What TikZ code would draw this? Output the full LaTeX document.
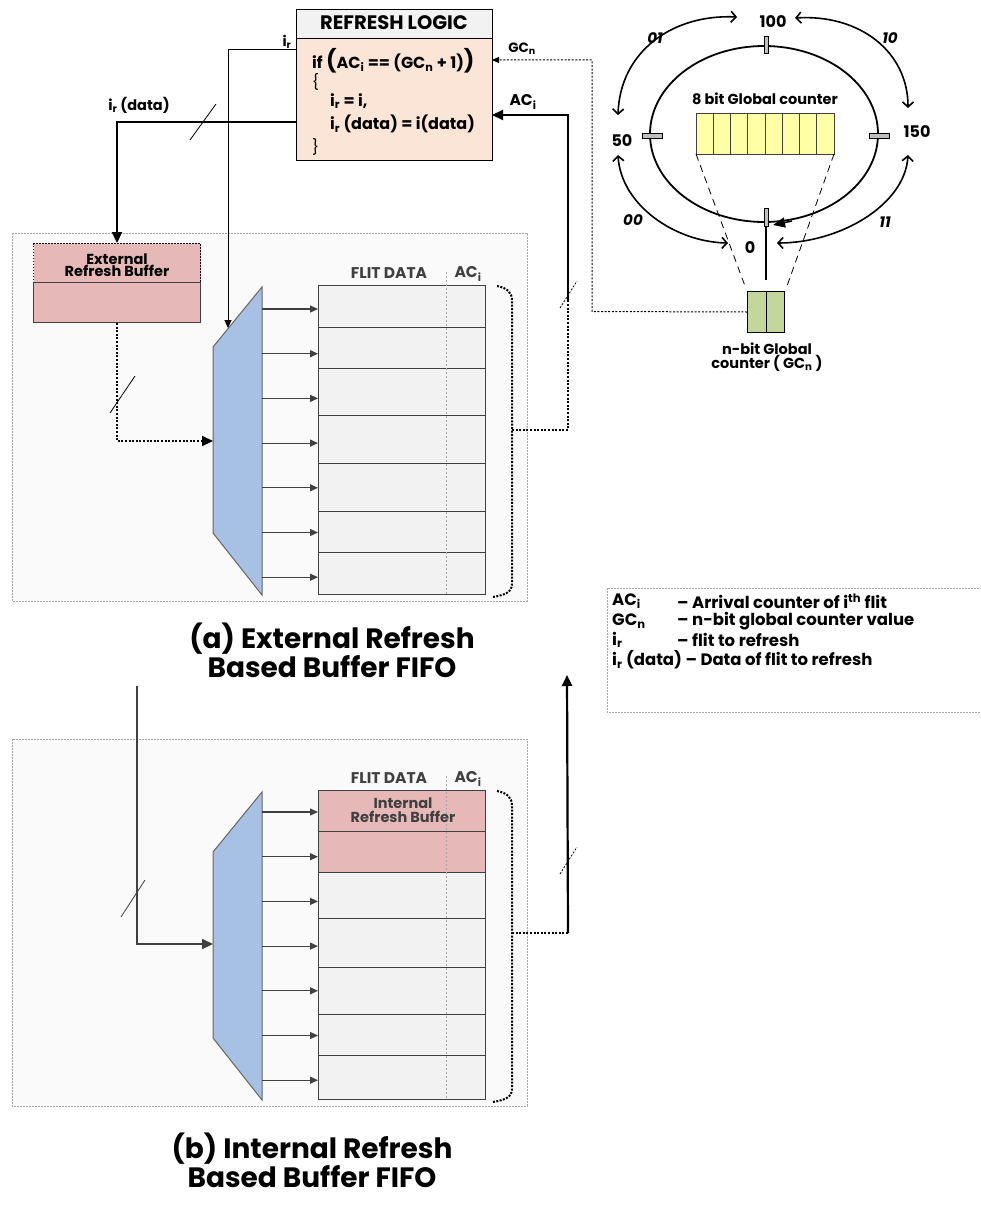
\documentclass[tikz,border=0pt]{standalone}
\usepackage{fontspec}
\setmainfont{Poppins}
\usetikzlibrary{arrows.meta}
\definecolor{peach}{HTML}{FBE5D6}
\definecolor{hdrgray}{HTML}{F2F2F2}
\definecolor{rose}{HTML}{E6B9B8}
\definecolor{muxblue}{HTML}{A6C1E4}
\definecolor{cellgray}{HTML}{F2F2F2}
\definecolor{regyellow}{HTML}{FFFFA6}
\definecolor{reggreen}{HTML}{C4D79B}
\definecolor{panelbg}{HTML}{FAFAFA}
\definecolor{ink}{HTML}{404040}
\definecolor{framegray}{HTML}{A6A6A6}
\newcommand\lo[1]{\textsubscript{#1}}
\newcommand\fs[1]{\fontsize{#1}{#1}\selectfont}
\begin{document}
\begin{tikzpicture}[x=1pt,y=-1pt,
  txt/.style={font=\bfseries\fs{16}, inner sep=0pt},
  panel/.style={draw=framegray, fill=panelbg, line width=0.9pt, dash pattern=on 1.6pt off 1.4pt},
  bigtip/.style={-{Triangle[length=11pt,width=10pt]}},
  bus/.style={line width=2.2pt},
  dotbus/.style={line width=2.2pt, dash pattern=on 2pt off 1.6pt},
  feed/.style={ink, line width=1.2pt, -{Triangle[length=8pt,width=7pt]}},
  slash/.style={line width=0.8pt},
  dslash/.style={line width=0.8pt, dash pattern=on 2pt off 1.5pt},
  brace/.style={line width=2pt, dash pattern=on 2pt off 1.4pt},
  muxshape/.style={fill=muxblue, draw=ink!80, line width=1pt},
  cell/.style={draw=ink, line width=1pt, fill=cellgray},
  ringtick/.style={draw=black, fill=gray!50, line width=0.6pt, inner sep=0pt},
  loop/.style={line width=1.6pt, {Straight Barb[length=5pt,width=11pt]}-{Straight Barb[length=5pt,width=11pt]}},
  legend/.style={txt, anchor=west, font=\bfseries\fs{16.5}},
  caption/.style={txt, font=\bfseries\fs{28}, align=center},
]
\useasboundingbox (0,0) rectangle (981,1215);
\fill[white] (0,0) rectangle (981,1215);

% ---------------- panels ----------------
\path[panel] (12,233) rectangle (527,601);
\path[panel] (12,739) rectangle (527,1106);

% ---------------- refresh logic ----------------
\node[draw, line width=1.2pt, fill=hdrgray, minimum width=196, minimum height=29, anchor=north west, inner sep=0] (rlh) at (296,9) {};
\node[draw, line width=1.2pt, fill=peach, minimum width=196, minimum height=122, anchor=north west, inner sep=0] (rlb) at (296,38) {};
\node[txt, font=\bfseries\fs{19.5}] (rltitle) at (394,23) {REFRESH LOGIC};
\node[txt, anchor=west] (code1) at (312,61) {if {\fs{22}(}AC\lo{i} == (GC\lo{n} + 1){\fs{22})}};
\node[txt, anchor=west, font=\fs{15}] (code2) at (312,82) {\{};
\node[txt, anchor=west] (code3) at (330,101) {i\lo{r} = i,};
\node[txt, anchor=west] (code4) at (330,124) {i\lo{r} (data) = i(data)};
\node[txt, anchor=west, font=\fs{15}] (code5) at (312,147) {\}};

% ---------------- external refresh buffer ----------------
\node[draw, line width=1pt, dash pattern=on 1.6pt off 1.4pt, fill=rose, minimum width=167, minimum height=39, anchor=north west, inner sep=0] (erbh) at (33,243) {};
\node[draw=ink, line width=1pt, fill=rose, minimum width=167, minimum height=40, anchor=north west, inner sep=0] (erbb) at (33,282) {};
\node[txt, font=\bfseries\fs{14.5}, align=center] (erbt) at (117,265) {External\\[-2pt]Refresh Buffer};

% ---------------- panel (a) ----------------
\path[muxshape] (213,347) -- (262,287) -- (262,595) -- (213,533) -- cycle;
\node[cell, minimum width=167, minimum height=309, anchor=north west, inner sep=0] (fifoA) at (318,285) {};
\foreach \y in {327,368,415,463,511,552} \draw[ink, line width=1pt] (318,\y) -- (485,\y);
\draw[framegray, line width=0.9pt, dash pattern=on 2pt off 2pt] (446,272) -- (446,594);
\foreach \k in {0,...,6} \draw[feed] (262,{309+44.7*\k}) -- (318,{309+44.7*\k});
\node[txt, text=ink, font=\bfseries\fs{15.5}] (flitA) at (389,273) {FLIT DATA};
\node[txt, text=ink, font=\bfseries\fs{15.5}] (acA) at (468,274) {AC\lo{i}};
\draw[brace] (497,286) .. controls (507,288) and (512,292) .. (512,301) -- (512,584) .. controls (512,592) and (505,595) .. (493,597);

% wiring of panel (a)
\coordinate (irOut) at (296,49);
\coordinate (irIn) at (228,328);
\draw[line width=0.9pt, -{Triangle[length=8pt,width=7pt]}] (irOut) -| (irIn);
\node[txt, font=\bfseries\fs{14}] (irlab) at (287,42) {i\lo{r}};

\coordinate (irdOut) at (296,122);
\draw[bus, bigtip] (irdOut) -| (erbh.north);
\draw[slash] (190,140) -- (216,104);
\node[txt, font=\bfseries\fs{14.5}] (irdlab) at (139,105) {i\lo{r} (data)};

\coordinate (muxAin) at (213,441);
\draw[dotbus, bigtip] (erbb.south) |- (muxAin);
\draw[slash] (110,413) -- (135,376);

\coordinate (braceA) at (512,430);
\coordinate (turnA) at (568,430);
\coordinate (slashA) at (568,300);
\coordinate (acIn) at (492,115);
\draw[dotbus] (braceA) -- (turnA) -- (slashA);
\draw[bus, bigtip] (slashA) -- (568,115) -- (acIn);
\draw[dslash] (560,308) -- (577,281);
\node[txt, font=\bfseries\fs{15.5}] (aclab) at (523,102) {AC\lo{i}};

\node[caption] (capA) at (332,650) {(a) External Refresh\\[1pt]Based Buffer FIFO};

% ---------------- panel (b) ----------------
\path[muxshape] (213,852) -- (262,792) -- (262,1100) -- (213,1038) -- cycle;
\node[cell, minimum width=167, minimum height=309, anchor=north west, inner sep=0] (fifoB) at (318,790) {};
\fill[rose] (318,790) rectangle (485,872);
\draw[ink, line width=1pt] (318,790) rectangle (485,1099);
\foreach \y in {831,872,918,967,1014,1055} \draw[ink, line width=1pt] (318,\y) -- (485,\y);
\draw[framegray, line width=0.9pt, dash pattern=on 2pt off 2pt] (446,776) -- (446,1099);
\foreach \k in {0,...,6} \draw[feed] (262,{812+44.7*\k}) -- (318,{812+44.7*\k});
\node[txt, text=ink, font=\bfseries\fs{15.5}] (flitB) at (389,778) {FLIT DATA};
\node[txt, text=ink, font=\bfseries\fs{15.5}] (acB) at (468,779) {AC\lo{i}};
\node[txt, text=ink, font=\bfseries\fs{14.5}, align=center] (irbt) at (403,810) {Internal\\[-1pt]Refresh Buffer};
\draw[brace] (497,791) .. controls (507,793) and (512,797) .. (512,806) -- (512,1089) .. controls (512,1097) and (505,1100) .. (493,1102);

\coordinate (feedB) at (137,686);
\coordinate (muxBin) at (213,944);
\draw[ink, line width=2.2pt, bigtip] (feedB) |- (muxBin);
\draw[ink, slash] (121,917) -- (145,880);

\coordinate (braceB) at (512,933);
\coordinate (turnB) at (568,933);
\coordinate (upB) at (567,675);
\draw[dotbus] (braceB) -- (turnB);
\draw[bus, bigtip] (turnB) -- (upB);
\draw[dslash] (560,874) -- (577,847);

\node[caption] (capB) at (312,1160) {(b) Internal Refresh\\[1pt]Based Buffer FIFO};

% ---------------- ring counter ----------------
\coordinate (ringc) at (764,134);
\draw[line width=1.8pt] (ringc) ellipse [x radius=114, y radius=88];
\draw[line width=1.5pt, -{Triangle[length=12pt,width=10pt]}] (792,221) -- (773,225);
\node[ringtick, minimum width=4, minimum height=17] (t100) at (766,45) {};
\node[ringtick, minimum width=20, minimum height=5] (t50) at (652,136) {};
\node[ringtick, minimum width=20, minimum height=5] (t150) at (879,136) {};
\node[ringtick, minimum width=4, minimum height=18] (t0) at (766,217) {};
\draw[line width=2pt] (t0.south) -- (766,280);

\node[txt] (l100) at (773,22) {100};
\node[txt] (l50) at (622,141) {50};
\node[txt] (l150) at (917,132) {150};
\node[txt] (l0) at (750,248) {0};
\node[txt, font=\bfseries\itshape\fs{15}] (l01) at (655,38) {01};
\node[txt, font=\bfseries\itshape\fs{15}] (l10) at (890,38) {10};
\node[txt, font=\bfseries\itshape\fs{15}] (l00) at (633,220) {00};
\node[txt, font=\bfseries\itshape\fs{15}] (l11) at (885,222) {11};

\draw[loop] (737,17) .. controls (672,14) and (620,52) .. (618,115);
\draw[loop] (795,18) .. controls (860,14) and (908,52) .. (908,108);
\draw[loop] (618,155) .. controls (621,205) and (675,242) .. (728,243);
\draw[loop] (908,155) .. controls (905,205) and (840,243) .. (777,243);

% 8-bit global counter register
\node[txt, font=\bfseries\fs{14.5}] (gclab) at (765,99) {8 bit Global counter};
\foreach \k in {0,...,7}
  \draw[fill=regyellow, draw=ink, line width=0.8pt] ({696+17.25*\k},113) rectangle ({696+17.25*(\k+1)},154);
\coordinate (regL) at (696,154);
\coordinate (regR) at (834,154);

% n-bit global counter
\node[draw, line width=1pt, fill=reggreen, minimum width=37, minimum height=41, anchor=north west, inner sep=0] (ngc) at (747,291) {};
\draw[line width=1pt] (766,291) -- (766,332);
\draw[line width=0.8pt, dash pattern=on 7pt off 5pt] (regL) -- (745,286);
\draw[line width=0.8pt, dash pattern=on 7pt off 5pt] (regR) -- (787,286);
\node[txt, font=\bfseries\fs{14.5}, align=center] (ngclab) at (767,357) {n-bit Global\\[-1pt]counter ( GC\lo{n} )};

% GC_n feedback to refresh logic
\coordinate (gcIn) at (492,60);
\draw[line width=1pt, dash pattern=on 2pt off 1.6pt, -{Triangle[length=7pt,width=6pt]}] (ngc.west) -- (592,311.5) -- (592,60) -- (gcIn);
\node[txt, font=\bfseries\fs{13.5}] (gclab2) at (522,49) {GC\lo{n}};

% ---------------- legend ----------------
\path[draw=framegray, line width=0.9pt, dash pattern=on 1.6pt off 1.4pt] (607,588) rectangle (990,712);
\node[legend] (k1) at (612,601) {AC\lo{i}};
\node[legend] (v1) at (677,601) {-- Arrival counter of i\textsuperscript{th} flit};
\node[legend] (k2) at (612,621) {GC\lo{n}};
\node[legend] (v2) at (677,621) {-- n-bit global counter value};
\node[legend] (k3) at (612,640) {i\lo{r}};
\node[legend] (v3) at (677,640) {-- flit to refresh};
\node[legend] (k4) at (612,660) {i\lo{r} (data) -- Data of flit to refresh};
\end{tikzpicture}
\end{document}
